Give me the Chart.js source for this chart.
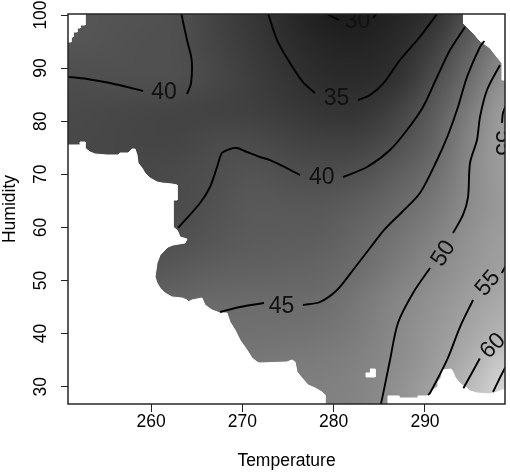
<!DOCTYPE html>
<html>
<head>
<meta charset="utf-8">
<script src="https://cdn.jsdelivr.net/npm/chart.js@4"></script>
<style>
  html, body { margin: 0; padding: 0; background: #fff; }
  #wrap { width: 510px; height: 473px; }
</style>
</head>
<body>
<div id="wrap"><canvas id="contourChart" width="510" height="473"></canvas></div>
<script>
const xTicks = [260, 270, 280, 290];
const yTicks = [30, 40, 50, 60, 70, 80, 90, 100];

// shaded field at cell centres
const gridTemp = [251, 255, 259, 263, 267, 271, 275, 279, 283, 287, 291, 295, 299];
const gridHum = [100, 94, 88, 82, 76, 70, 64, 58, 52, 46, 40, 34, 28];
const field = [
  [41.5, 41.0, 40.6, 40.1, 38.1, 36.0, 33.2, 30.1, 29.0, 31.9, 34.8, 40.5, 44.0],
  [41.2, 40.8, 40.4, 40.2, 38.5, 36.5, 34.4, 32.0, 31.5, 33.5, 37.4, 43.4, 49.0],
  [39.9, 40.1, 40.3, 40.2, 38.9, 37.3, 35.6, 33.6, 33.5, 35.0, 39.8, 45.4, 52.3],
  [39.3, 39.0, 38.6, 38.3, 38.0, 37.5, 36.6, 35.6, 35.5, 37.9, 42.2, 47.9, 55.1],
  [39.0, 38.8, 38.5, 38.4, 39.4, 39.5, 38.5, 37.7, 37.9, 40.2, 43.7, 49.5, 55.3],
  [38.8, 38.7, 39.0, 39.4, 40.0, 41.0, 40.1, 39.9, 40.5, 42.8, 45.3, 50.2, 54.5],
  [38.5, 38.5, 38.7, 39.5, 40.6, 41.8, 41.6, 41.7, 42.8, 44.6, 47.2, 50.6, 54.0],
  [39.5, 39.5, 40.0, 40.2, 41.3, 42.2, 42.4, 42.7, 44.4, 46.3, 48.8, 52.0, 54.7],
  [40.0, 40.5, 41.0, 42.0, 42.8, 43.2, 43.5, 44.0, 45.3, 48.0, 50.3, 53.0, 55.2],
  [41.0, 42.0, 43.0, 44.0, 44.6, 44.8, 44.9, 45.1, 47.3, 49.4, 51.9, 54.8, 57.6],
  [42.0, 43.0, 44.0, 45.0, 45.6, 45.9, 46.0, 46.5, 47.9, 50.0, 53.0, 56.4, 60.0],
  [43.0, 44.0, 45.0, 46.0, 46.6, 47.0, 47.5, 48.0, 48.8, 50.8, 54.0, 59.2, 65.2],
  [44.0, 45.0, 46.0, 47.0, 47.4, 47.8, 48.3, 48.7, 49.2, 51.7, 56.0, 61.8, 67.8],
];

// value -> grey level
const grayStops = [28, 30, 35, 40, 45, 50, 55, 60, 65, 70];
const grayLevels = [24, 30, 49, 78, 108, 137, 160, 182, 206, 224];

// contour lines, cut where the labels sit
const contour30 = [
  [[279.27, 100.4], [279.6, 99.9], [280.58, 99.06]],
  [[284.31, 99.44], [284.75, 100.4]],
];
const contour35 = [
  [[272.8, 100.4], [273.8, 95.29], [275.22, 90.96], [276.64, 87.38], [277.96, 85.31]],
  [[282.67, 83.99], [283.98, 84.93], [285.44, 87.14], [287.26, 91.53], [289.45, 95.91], [291.4, 100.4]],
];
const contour40left = [
  [[250.6, 88.4], [252.99, 87.95], [255.51, 87.19], [259.12, 85.69]],
  [[263.94, 85.12], [264.38, 87.19], [264.45, 91.53], [263.94, 95.29], [263.3, 100.4]],
];
const contour40mid = [
  [[262.96, 59.89], [265.37, 64.6], [266.46, 67.61], [267.23, 71.37], [267.77, 74.01], [268.65, 74.76],
   [269.42, 74.95], [270.51, 74.2], [271.93, 73.26], [273.03, 72.69], [274.67, 71.37], [276.31, 69.87]],
  [[281.02, 69.49], [283.65, 71.37], [286.17, 74.58], [288.03, 78.34], [289.78, 82.67], [291.32, 88.32],
   [292.74, 93.41], [294.38, 97.74]],
];
const contour45 = [
  [[267.55, 44.07], [269.74, 45.01], [272.37, 45.76]],
  [[276.64, 45.39], [278.5, 45.95], [280.37, 48.21], [282.12, 51.98], [283.98, 56.12], [285.62, 59.7],
   [287.48, 62.9], [289.45, 66.48], [291.32, 72.69], [292.52, 77.4], [293.61, 82.67], [294.6, 88.32],
   [296.02, 93.97], [296.5, 95.1]],
];
const contour50 = [
  [[298.21, 90.58], [296.79, 85.88], [296.02, 80.79], [295.69, 76.46], [294.93, 72.13], [294.71, 65.72],
   [294.16, 62.34], [293.07, 58.95]],
  [[290.55, 52.35], [288.69, 47.65], [287.04, 42.0], [286.17, 35.03], [285.18, 26.74], [285.05, 26.3]],
];
const contour55 = [
  [[299.0, 83.6], [298.54, 81.54], [298.43, 79.66]],
  [[298.9, 52.9], [298.4, 51.4]],
  [[295.26, 46.33], [293.83, 41.24], [292.41, 35.03], [290.55, 28.81], [290.33, 28.44]],
];
const contour60 = [
  [[296.0, 35.3], [294.2, 29.7]],
];
const contour65 = [
  [[299.2, 34.3], [298.76, 33.52], [297.45, 29.0]],
];

const labelText = ['30', '35', '40', '40', '45', '50', '55', '55', '60'];
const labelTemp = [282.61, 280.31, 261.42, 278.69, 274.29, 292.03, 298.45, 296.9, 297.45];
const labelHum = [98.7, 84.18, 85.3, 69.4, 45.1, 55.08, 75.9, 49.44, 37.66];
const labelAngle = [0, 0, 0, 0, 0, -57, 90, -50, -45];

// blank (no data) regions
const maskTopLeft = [[250.5, 100.5], [252.77, 100.5], [252.77, 98.12], [252.23, 98.12], [252.23, 97.55],
  [251.9, 97.55], [251.9, 96.8], [251.46, 96.8], [251.46, 95.86], [251.24, 95.86], [251.24, 94.92], [250.5, 94.92]];
const maskLeft = [[250.5, 75.52], [252.23, 75.52], [252.23, 76.08], [252.77, 76.08], [252.77, 74.95],
  [253.32, 74.2], [253.87, 73.82], [255.18, 73.63], [256.39, 73.63], [256.61, 74.01], [257.48, 74.01],
  [257.92, 74.76], [258.25, 74.76], [258.47, 73.63], [258.58, 72.13], [259.01, 71.19], [259.34, 70.24],
  [259.89, 69.3], [260.66, 68.55], [261.2, 68.36], [262.3, 68.17], [262.85, 67.98], [262.85, 65.16],
  [262.41, 65.16], [262.41, 60.08], [262.85, 59.51], [262.96, 59.13], [263.18, 58.19], [263.94, 57.81],
  [263.72, 57.06], [262.41, 56.69], [261.86, 56.31], [261.31, 55.37], [260.99, 54.8], [260.66, 53.3],
  [260.44, 50.66], [260.66, 49.53], [260.99, 48.59], [261.53, 47.65], [262.3, 46.89], [263.39, 46.7],
  [263.94, 46.33], [264.05, 45.95], [264.49, 46.33], [265.58, 46.7], [265.91, 45.39], [266.68, 44.44],
  [267.55, 43.88], [268.32, 43.88], [268.65, 42.18], [269.2, 40.68], [269.74, 38.79], [270.51, 36.91],
  [271.06, 35.4], [271.61, 34.65], [271.93, 34.46], [274.89, 34.65], [275.44, 35.03], [275.77, 34.65],
  [275.99, 32.77], [276.53, 31.64], [277.19, 30.32], [277.96, 29.76], [278.72, 29.0], [279.05, 28.44],
  [279.05, 26.3], [250.5, 26.3]];
const maskDot = [[283.98, 33.33], [284.53, 33.33], [284.53, 31.83], [283.54, 31.83], [283.54, 32.58], [283.98, 32.58]];
const maskBottomRight = [[285.95, 26.3], [285.95, 28.25], [287.15, 28.25], [287.15, 27.87], [289.23, 27.87],
  [289.23, 28.25], [290.22, 28.25], [290.55, 28.81], [290.88, 29.38], [291.32, 29.94], [291.42, 30.89],
  [291.75, 31.64], [291.86, 32.77], [291.97, 33.14], [292.85, 33.33], [293.07, 32.77], [293.29, 31.83],
  [293.61, 31.07], [294.05, 30.32], [294.6, 29.76], [294.93, 29.19], [295.69, 28.81], [297.12, 28.63],
  [297.88, 29.0], [298.43, 29.38], [299.2, 29.6], [299.2, 26.3]];
const maskTopRight = [[294.16, 100.5], [299.2, 100.5], [299.2, 87.76], [298.43, 87.76], [298.43, 90.96],
  [297.88, 92.09], [297.45, 93.03], [297.12, 93.79], [296.35, 94.73], [295.91, 95.29], [295.48, 96.23],
  [295.15, 96.8], [294.6, 97.74], [294.16, 98.49]];

const FONT = "'Liberation Sans', Arial, sans-serif";

function grayOf(v) {
  let i = 0;
  while (i < grayStops.length - 2 && v > grayStops[i + 1]) i++;
  const t = Math.min(1, Math.max(0, (v - grayStops[i]) / (grayStops[i + 1] - grayStops[i])));
  return Math.round(grayLevels[i] + t * (grayLevels[i + 1] - grayLevels[i]));
}

const toPts = arr => arr.map(p => ({ x: p[0], y: p[1] }));

const datasets = [];
[maskTopLeft, maskLeft, maskDot, maskBottomRight, maskTopRight].forEach(m => {
  datasets.push({
    data: toPts(m),
    showLine: true,
    fill: 'shape',
    backgroundColor: '#ffffff',
    borderColor: '#ffffff',
    borderWidth: 1,
    pointRadius: 0,
    tension: 0,
    order: 2,
  });
});
[contour30, contour35, contour40left, contour40mid, contour45, contour50, contour55, contour60, contour65].forEach(c => {
  c.forEach(piece => {
    datasets.push({
      data: toPts(piece),
      showLine: true,
      fill: false,
      borderColor: '#000',
      borderWidth: 1.9,
      pointRadius: 0,
      tension: 0.3,
      order: 1,
    });
  });
});

const rasterPlugin = {
  id: 'raster',
  beforeDatasetsDraw(chart) {
    const { ctx, chartArea: a, scales: { x, y } } = chart;
    const nx = gridTemp.length, ny = gridHum.length;
    const off = document.createElement('canvas');
    off.width = nx;
    off.height = ny;
    const octx = off.getContext('2d');
    const img = octx.createImageData(nx, ny);
    for (let j = 0; j < ny; j++) {
      for (let i = 0; i < nx; i++) {
        const g = grayOf(field[j][i]);
        const k = (j * nx + i) * 4;
        img.data[k] = g; img.data[k + 1] = g; img.data[k + 2] = g; img.data[k + 3] = 255;
      }
    }
    octx.putImageData(img, 0, 0);
    const dx = (gridTemp[1] - gridTemp[0]) / 2, dy = (gridHum[0] - gridHum[1]) / 2;
    const left = x.getPixelForValue(gridTemp[0] - dx);
    const right = x.getPixelForValue(gridTemp[nx - 1] + dx);
    const top = y.getPixelForValue(gridHum[0] + dy);
    const bottom = y.getPixelForValue(gridHum[ny - 1] - dy);
    ctx.save();
    ctx.beginPath();
    ctx.rect(a.left, a.top, a.right - a.left, a.bottom - a.top);
    ctx.clip();
    ctx.imageSmoothingEnabled = true;
    ctx.imageSmoothingQuality = 'high';
    ctx.drawImage(off, left, top, right - left, bottom - top);
    ctx.restore();
  },
  afterDatasetsDraw(chart) {
    const { ctx, chartArea: a, scales: { x, y } } = chart;
    ctx.save();
    ctx.beginPath();
    ctx.rect(a.left, a.top, a.right - a.left, a.bottom - a.top);
    ctx.clip();
    ctx.fillStyle = '#111';
    ctx.font = '23px ' + FONT;
    ctx.textAlign = 'center';
    ctx.textBaseline = 'middle';
    labelText.forEach((t, i) => {
      ctx.save();
      ctx.translate(x.getPixelForValue(labelTemp[i]), y.getPixelForValue(labelHum[i]));
      ctx.rotate(labelAngle[i] * Math.PI / 180);
      ctx.fillText(t, 0, 0);
      ctx.restore();
    });
    ctx.restore();
    // box round the plot
    ctx.save();
    ctx.strokeStyle = '#262626';
    ctx.lineWidth = 1.5;
    ctx.strokeRect(a.left, a.top, a.right - a.left, a.bottom - a.top);
    ctx.restore();
  }
};

const tickFont = { family: FONT, size: 17.5 };

new Chart(document.getElementById('contourChart'), {
  type: 'scatter',
  data: { datasets: datasets },
  options: {
    responsive: false,
    animation: false,
    events: [],
    layout: { padding: { left: 0, right: 5, top: 14, bottom: 0 } },
    plugins: { legend: { display: false }, tooltip: { enabled: false } },
    scales: {
      x: {
        type: 'linear',
        position: 'bottom',
        min: 250.91,
        max: 298.76,
        afterBuildTicks: s => { s.ticks = xTicks.map(v => ({ value: v })); },
        afterFit: s => { s.height = 69; s.paddingLeft = 0; s.paddingRight = 0; },
        grid: { drawOnChartArea: false, tickLength: 8, color: '#222' },
        border: { display: false },
        ticks: { minRotation: 0, maxRotation: 0, padding: 0, color: '#000', font: tickFont },
        title: { display: true, text: 'Temperature', color: '#000', font: tickFont, padding: { top: 0, bottom: 1.5 } },
      },
      y: {
        type: 'linear',
        min: 26.74,
        max: 100.19,
        afterBuildTicks: s => { s.ticks = yTicks.map(v => ({ value: v })); },
        afterFit: s => { s.width = 68; s.paddingTop = 0; s.paddingBottom = 0; },
        grid: { drawOnChartArea: false, tickLength: 7, color: '#222' },
        border: { display: false },
        ticks: { minRotation: 90, maxRotation: 90, crossAlign: 'center', padding: 5, color: '#000', font: tickFont },
        title: { display: true, text: 'Humidity', color: '#000', font: tickFont, padding: { top: 0, bottom: 0 } },
      },
    },
  },
  plugins: [rasterPlugin],
});
</script>
</body>
</html>
